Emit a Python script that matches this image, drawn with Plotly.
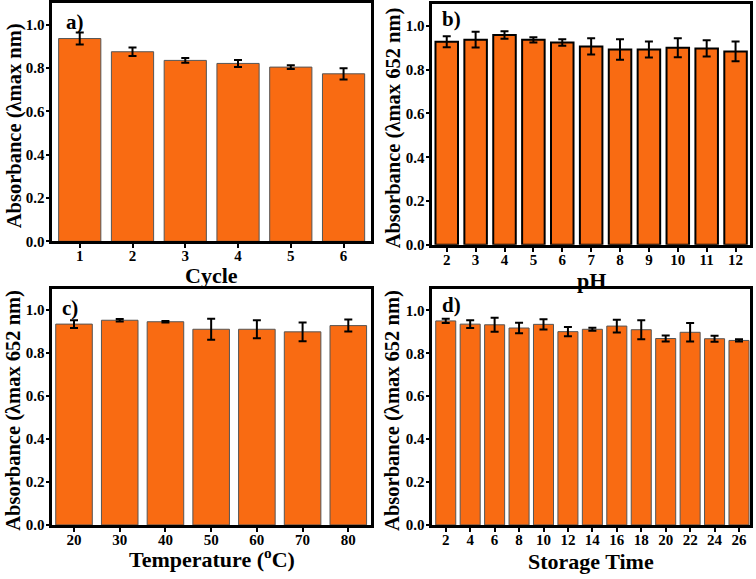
import plotly.graph_objects as go

# ---- data ----
cycle = [1, 2, 3, 4, 5, 6]
cycle_abs = [0.937, 0.876, 0.836, 0.822, 0.805, 0.774]
cycle_err = [0.028, 0.020, 0.011, 0.016, 0.009, 0.026]

ph = [2, 3, 4, 5, 6, 7, 8, 9, 10, 11, 12]
ph_abs = [0.927, 0.937, 0.958, 0.936, 0.924, 0.906, 0.892, 0.892, 0.900, 0.897, 0.883]
ph_err = [0.025, 0.036, 0.017, 0.012, 0.015, 0.037, 0.047, 0.037, 0.043, 0.037, 0.045]

temp = [20, 30, 40, 50, 60, 70, 80]
temp_abs = [0.935, 0.953, 0.946, 0.911, 0.911, 0.899, 0.928]
temp_err = [0.018, 0.006, 0.003, 0.049, 0.042, 0.044, 0.028]

storage = [2, 4, 6, 8, 10, 12, 14, 16, 18, 20, 22, 24, 26]
storage_abs = [0.951, 0.936, 0.933, 0.918, 0.935, 0.901, 0.912, 0.927, 0.910, 0.869, 0.898, 0.868, 0.860]
storage_err = [0.010, 0.018, 0.033, 0.025, 0.024, 0.022, 0.007, 0.030, 0.044, 0.014, 0.043, 0.014, 0.005]

y_ticks = [0.0, 0.2, 0.4, 0.6, 0.8, 1.0]

W, H = 756, 579
FONT = "Liberation Serif, Times New Roman, serif"
ORANGE = "#F96B12"


def px_x(p):
    return p / W


def px_y(p):
    return 1 - p / H


panels = [
    dict(x=cycle, y=cycle_abs, e=cycle_err, width=0.8, xr=[0.48, 6.52],
         dom_x=[52.3, 371], dom_y=[3.3, 244.7], line=dict(color="#555555", width=1),
         xtitle="Cycle", ytitle="Absorbance (λmax nm)", label="a)", lab_xy=(64, 22),
         xt_y=279, yt_x=14),
    dict(x=ph, y=ph_abs, e=ph_err, width=0.78, xr=[1.5, 12.5],
         dom_x=[432.3, 750], dom_y=[4, 248.3], line=dict(color="#000000", width=2),
         xtitle="pH", ytitle="Absorbance (λmax 652 nm)", label="b)", lab_xy=(440, 19),
         xt_y=284, yt_x=393),
    dict(x=temp, y=temp_abs, e=temp_err, width=8, xr=[15.25, 84.9],
         dom_x=[52.3, 370.7], dom_y=[292.7, 532.3], line=dict(color="#555555", width=1),
         xtitle="Temperature (<sup>o</sup>C)", ytitle="Absorbance (λmax 652 nm)", label="c)", lab_xy=(60, 312),
         xt_y=566, yt_x=14),
    dict(x=storage, y=storage_abs, e=storage_err, width=1.64, xr=[0.9, 26.9],
         dom_x=[432.3, 750], dom_y=[293, 532.3], line=dict(color="#555555", width=1),
         xtitle="Storage Time", ytitle="Absorbance (λmax 652 nm)", label="d)", lab_xy=(440, 309),
         xt_y=569, yt_x=393),
]

fig = go.Figure()
layout = dict(
    width=W, height=H, autosize=False,
    margin=dict(l=0, r=0, t=0, b=0),
    paper_bgcolor="white", plot_bgcolor="white",
    showlegend=False,
    font=dict(family=FONT, color="black"),
    annotations=[],
)

for i, p in enumerate(panels):
    n = "" if i == 0 else str(i + 1)
    xa, ya = "x" + n, "y" + n
    fig.add_trace(go.Bar(
        x=p["x"], y=p["y"], width=p["width"],
        marker=dict(color=ORANGE, line=p["line"]),
        error_y=dict(type="data", array=p["e"], color="black", thickness=2, width=4),
        xaxis=xa, yaxis=ya,
    ))
    common = dict(
        showline=True, linecolor="black", linewidth=2.5, mirror=True,
        ticks="outside", ticklen=4, tickwidth=2, tickcolor="black",
        showgrid=False, zeroline=False,
        tickfont=dict(family=FONT, size=15, weight="bold", color="black"),
    )
    layout["xaxis" + n] = dict(
        common, domain=[px_x(p["dom_x"][0]), px_x(p["dom_x"][1])],
        range=p["xr"], tickvals=p["x"], anchor=ya, ticklabelstandoff=-5,
    )
    layout["yaxis" + n] = dict(
        common, domain=[px_y(p["dom_y"][1]), px_y(p["dom_y"][0])],
        range=[0, 1.1], tickvals=y_ticks, tickformat=".1f", anchor=xa, ticklabelstandoff=-2,
    )
    cx = (p["dom_x"][0] + p["dom_x"][1]) / 2
    cy = (p["dom_y"][0] + p["dom_y"][1]) / 2 + 4
    layout["annotations"] += [
        dict(text=p["label"], x=px_x(p["lab_xy"][0]), y=px_y(p["lab_xy"][1]),
             xref="paper", yref="paper", xanchor="left", yanchor="middle", showarrow=False,
             font=dict(family=FONT, size=21, weight="bold", color="black")),
        dict(text=p["xtitle"], x=px_x(cx), y=px_y(p["xt_y"]),
             xref="paper", yref="paper", xanchor="center", yanchor="middle", showarrow=False,
             font=dict(family=FONT, size=22, weight="bold", color="black")),
        dict(text=p["ytitle"], x=px_x(p["yt_x"]), y=px_y(cy), textangle=-90,
             xref="paper", yref="paper", xanchor="center", yanchor="middle", showarrow=False,
             font=dict(family=FONT, size=20.5, weight="bold", color="black")),
    ]

fig.update_layout(**layout)
fig.write_html("out.html", config={"displayModeBar": False},
               post_script="document.body.style.margin='0';")
